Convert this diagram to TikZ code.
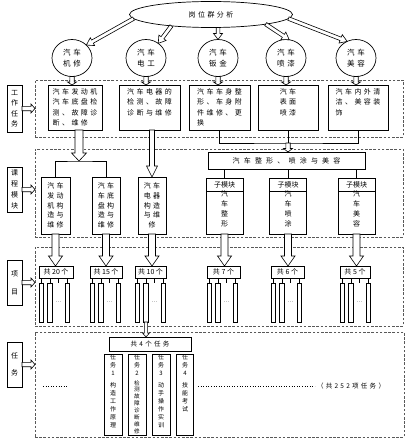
\documentclass[tikz,border=0pt]{standalone}
\usepackage{fontspec}
\newfontfamily\cjk[LetterSpace=35]{Noto Sans CJK SC}
\newfontfamily\cjkw[LetterSpace=60]{Noto Sans CJK SC}
\newfontfamily\cjkn{Noto Sans CJK SC}
\usetikzlibrary{shapes.geometric,calc}
\tikzset{
  every node/.style={inner sep=0pt, outer sep=0pt},
  box/.style={draw=black, line width=0.7pt, rectangle, fill=white},
  region/.style={draw=black!65, line width=0.8pt, dash pattern=on 2.6pt off 1.6pt, rectangle},
  oval/.style={draw=black, line width=0.7pt, ellipse, fill=white, align=center},
  wtxt/.style={font=\cjk\fontsize{7}{10.4}\selectfont, align=left},
  vtxt/.style={font=\cjk\fontsize{7}{9.7}\selectfont, align=center},
  vone/.style={font=\cjkn\fontsize{7}{10}\selectfont, align=center},
  ttxt/.style={font=\cjkn\fontsize{6}{7.6}\selectfont, align=center},
  hline/.style={draw=black, line width=0.7pt},
  harrow/.style n args={3}{draw=black, line width=0.6pt, fill=white,
    to path={let \p1=(\tikztostart), \p2=(\tikztotarget),
      \n1={atan2(\y2-\y1,\x2-\x1)}, \n2={veclen(\x2-\x1,\y2-\y1)} in
      [shift={(\p1)}, rotate=\n1]
      (0pt,-#1) -- ({\n2-#3},-#1) -- ({\n2-#3},-#2) -- ({\n2},0pt)
      -- ({\n2-#3},#2) -- ({\n2-#3},#1) -- (0pt,#1) -- cycle}},
}
\begin{document}
\begin{tikzpicture}[x=1pt,y=-1pt]
\useasboundingbox[fill=white] (0,0) rectangle (413,444);

% dashed regions
\node[region, minimum width=368pt, minimum height=57pt] (r1) at (219,108.5) {};
\node[region, minimum width=368pt, minimum height=88pt] (r2) at (219,193) {};
\node[region, minimum width=368pt, minimum height=79pt] (r3) at (219,286.5) {};
\node[region, minimum width=369pt, minimum height=105pt] (r4) at (219.5,384.5) {};

% top ellipse and circles
\node[oval, minimum width=163pt, minimum height=26pt, font=\cjk\fontsize{7}{8}\selectfont] (top) at (211,14.5) {岗位群分析};
\foreach \n/\x/\t in {c1/72/机修, c2/146/电工, c3/218/钣金, c4/286/喷漆, c5/356/美容}
  \node[oval, minimum width=40pt, minimum height=37pt, font=\cjk\fontsize{7.5}{10.5}\selectfont] (\n) at (\x,58) {汽车\\\t};

\draw[harrow={1.8pt}{4.5pt}{7pt}] (top.183) to (c1.42);
\draw[harrow={1.8pt}{4.5pt}{7pt}] (top.196) to (c2.50);
\draw[harrow={1.8pt}{4.5pt}{6pt}] (c3.north |- top.south) to (c3.north);
\draw[harrow={1.8pt}{4.5pt}{7pt}] (top.350) to (c4.80);
\draw[harrow={1.8pt}{4.5pt}{7pt}] (top.357) to (c5.118);

% left labels
\node[box, minimum width=15pt, minimum height=47pt, font=\cjkn\fontsize{7}{10.5}\selectfont, align=center] (l1) at (14.5,108.5) {工\\作\\任\\务};
\node[box, minimum width=15pt, minimum height=45pt, font=\cjkn\fontsize{7}{11}\selectfont, align=center] (l2) at (14.5,189.5) {课\\程\\模\\块};
\node[box, minimum width=15pt, minimum height=45pt, font=\cjkn\fontsize{7}{18}\selectfont, align=center] (l3) at (14.5,282.5) {项\\目};
\node[box, minimum width=15pt, minimum height=45pt, font=\cjkn\fontsize{7}{17}\selectfont, align=center] (l4) at (14.5,364.5) {任\\务};
\foreach \l/\r in {l1/r1, l2/r2, l3/r3, l4/r4}
  \draw[harrow={2.2pt}{4.5pt}{4pt}] (\l.east) to (\l.east -| \r.west);

% work-task boxes
\node[box, minimum width=54pt, minimum height=45pt] (wb1) at (75,107.5) {};
\node[box, minimum width=61pt, minimum height=45pt] (wb2) at (149.5,107.5) {};
\node[box, minimum width=61pt, minimum height=45pt] (wb3) at (219.5,107.5) {};
\node[box, minimum width=60pt, minimum height=45pt] (wb4) at (288,107.5) {};
\node[box, minimum width=60pt, minimum height=45pt] (wb5) at (358,107.5) {};
\node[wtxt, anchor=north] (wb1t) at ([yshift=-3.5pt]wb1.north) {汽车发动机\\汽车底盘检\\测、故障诊\\断、维修};
\node[wtxt, anchor=north] (wb2t) at ([yshift=-3.5pt]wb2.north) {汽车电器的\\检测、故障\\诊断与维修};
\node[wtxt, anchor=north] (wb3t) at ([yshift=-3.5pt]wb3.north) {汽车车身整\\形、车身附\\件维修、更\\换};
\node[wtxt, anchor=north] (wb4t) at ([yshift=-3.5pt]wb4.north) {汽车\\表面\\喷漆};
\node[wtxt, anchor=north] (wb5t) at ([yshift=-3.5pt]wb5.north) {汽车内外清\\洁、美容装\\饰};
\foreach \c/\w in {c1/wb1, c2/wb2, c3/wb3, c4/wb4, c5/wb5}
  \draw[harrow={2.2pt}{4.5pt}{3pt}] (\c.south) to (\c.south |- \w.north);

% course modules
\node[box, minimum width=29pt, minimum height=57pt, vtxt] (m1) at (55.5,205.5) {汽车\\发动\\机构\\造与\\维修};
\node[box, minimum width=28pt, minimum height=57pt, vtxt] (m2) at (106,205.5) {汽车\\车底\\盘构\\造与\\维修};
\node[box, minimum width=28pt, minimum height=57pt, vtxt] (m3) at (152,205.5) {汽车\\电器\\构造\\与维\\修};
\coordinate (j1) at (79,161);
\draw[hline] (m1.north) |- (j1) -| (m2.north);
\draw[harrow={4pt}{7.5pt}{8pt}] (wb1.south -| j1) to (j1);
\draw[harrow={2.5pt}{5.5pt}{11pt}] (m3.north |- wb2.south) to (m3.north);

% right course modules
\node[box, minimum width=157pt, minimum height=17pt, font=\cjkw\fontsize{7}{8}\selectfont] (wide) at (286.5,160.5) {汽车整形、喷涂与美容};
\coordinate (j2) at (288,143);
\draw[hline] (wb3.south) |- (j2) -| (wb5.south);
\draw[hline] (wb4.south) -- (wb4.south |- j2);
\draw[harrow={2.2pt}{4.5pt}{3.5pt}] (j2) to (j2 |- wide.north);
\foreach \s/\x/\t in {s1/224.5/整形, s2/288/喷涂, s3/356.5/美容} {
  \node[box, minimum width=37pt, minimum height=56pt] (\s) at (\x,206) {};
  \draw[hline] ($(\s.north west)+(0,13)$) -- ($(\s.north east)+(0,13)$);
  \node[font=\cjkn\fontsize{7}{8}\selectfont] (\s h) at ($(\s.north)+(0,6.5)$) {子模块};
  \draw[hline] (\s.north |- wide.south) -- (\s.north);
}
\node[vone] (s1t) at ($(s1.north)+(0,31)$) {汽\\车\\整\\形};
\node[vone] (s2t) at ($(s2.north)+(0,31)$) {汽\\车\\喷\\涂};
\node[vone] (s3t) at ($(s3.north)+(0,31)$) {汽\\车\\美\\容};

% projects
\foreach \i/\L/\w/\t in {1/39/34/共 20 个, 2/90/32/共 15 个, 3/135/31/共 10 个, 4/207/33/共 7 个, 5/271/33/共 6 个, 6/340/30/共 5 个} {
  \node[box, minimum width=\w pt, minimum height=12pt, anchor=west, font=\cjkn\fontsize{7}{8}\selectfont] (h\i) at (\L,272) {\t};
  \foreach \k/\dx in {a/2.5, b/11, c/28.5} {
    \node[box, minimum width=4.5pt, minimum height=39pt] (h\i\k) at (\L+\dx,302.5) {};
    \draw[hline] (h\i\k.north |- h\i.south) -- (h\i\k.north);
  }
  \coordinate (h\i x) at (\L+19.5,283);
  \draw[hline] (h\i x |- h\i.south) -- (h\i x);
  \node[font=\cjkn\fontsize{5}{6}\selectfont] (h\i e) at (\L+19.5,302) {…};
}
\foreach \m/\h in {m1/h1, m2/h2, m3/h3, s1/h4, s2/h5, s3/h6}
  \draw[harrow={3.5pt}{7pt}{10pt}] (\m.south) to (\m.south |- \h.north);

% tasks
\node[box, minimum width=82pt, minimum height=14pt, font=\cjk\fontsize{6.5}{8}\selectfont] (tt) at (150,344) {共4个任务};
\draw[harrow={1.6pt}{3.5pt}{4pt}] (h3b.south) to (h3b.south |- tt.north);
\node[box, minimum width=18pt, minimum height=81pt] (t1) at (113,394.5) {};
\node[box, minimum width=18pt, minimum height=81pt] (t2) at (137,394.5) {};
\node[box, minimum width=18pt, minimum height=81pt] (t3) at (161,394.5) {};
\node[box, minimum width=17pt, minimum height=81pt] (t4) at (185,394.5) {};
\node[ttxt] (t1a) at ($(t1.north)+(0,11)$) {任\\务\\1};
\node[ttxt] (t2a) at ($(t2.north)+(0,11)$) {任\\务\\2};
\node[ttxt] (t3a) at ($(t3.north)+(0,11)$) {任\\务\\3};
\node[ttxt] (t4a) at ($(t4.north)+(0,11)$) {任\\务\\4};
\node[ttxt, font=\cjkn\fontsize{6}{8}\selectfont] (t1b) at ($(t1.north)+(0,51)$) {构\\造\\工\\作\\原\\理};
\node[ttxt, font=\cjkn\fontsize{5.6}{6.9}\selectfont] (t2b) at ($(t2.north)+(0,53)$) {检\\测\\故\\障\\诊\\断\\维\\修};
\node[ttxt, font=\cjkn\fontsize{6}{8}\selectfont] (t3b) at ($(t3.north)+(0,51)$) {动\\手\\操\\作\\实\\训};
\node[ttxt, font=\cjkn\fontsize{6}{8}\selectfont] (t4b) at ($(t4.north)+(0,43)$) {技\\能\\考\\试};

\node[font=\cjk\fontsize{6.5}{8}\selectfont, anchor=west] (note) at (317,386) {（共252项任务）};
\coordinate (dl1) at (43,386);
\coordinate (dl2) at (68,386);
\coordinate (dr1) at (198,386);
\draw[dotted, line width=0.6pt] (dl1) -- (dl2);
\draw[dotted, line width=0.6pt] (dr1) -- ([xshift=-2pt]note.west);
\end{tikzpicture}
\end{document}
